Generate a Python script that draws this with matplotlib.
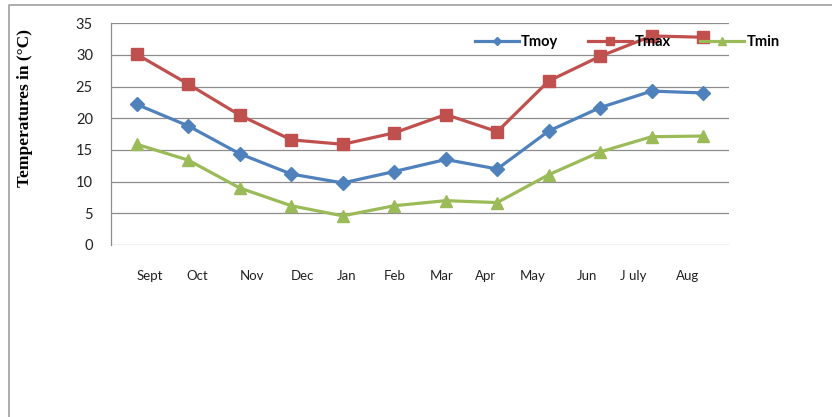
import matplotlib
matplotlib.use("Agg")
import matplotlib.pyplot as plt
import matplotlib.transforms as mtransforms
from matplotlib.lines import Line2D

# -----------------------------
# DATA
# -----------------------------
months = ["Sept", "Oct", "Nov", "Dec", "Jan", "Feb", "Mar", "Apr", "May", "Jun", "J uly", "Aug"]
tmoy = [22.2, 18.8, 14.4, 11.2, 9.8, 11.6, 13.5, 12.0, 18.0, 21.7, 24.3, 24.0]
tmax = [30.1, 25.4, 20.5, 16.6, 15.9, 17.7, 20.6, 17.9, 25.9, 29.8, 33.0, 32.8]
tmin = [15.9, 13.4, 9.0, 6.2, 4.6, 6.2, 7.0, 6.7, 11.1, 14.7, 17.1, 17.2]
yticks = [0, 5, 10, 15, 20, 25, 30, 35]

# -----------------------------
# STYLE
# -----------------------------
BLUE = "#4F81BD"
RED = "#C0504D"
GREEN = "#9BBB59"
GRID = "#8C8C8C"
TICK_FONT = "Lato"

W, H = 832, 417
fig = plt.figure(figsize=(W / 100, H / 100), dpi=100)
ax = fig.add_axes([111 / W, 1 - 245 / H, (729 - 111) / W, (245 - 23.3) / H])

x = list(range(len(months)))
ax.plot(x, tmoy, color=BLUE, lw=2.3, marker="D", ms=7.5, label="Tmoy")
ax.plot(x, tmax, color=RED, lw=2.3, marker="s", ms=8.5, label="Tmax")
ax.plot(x, tmin, color=GREEN, lw=2.3, marker="^", ms=9, label="Tmin")

ax.set_xlim(-0.5, len(months) - 0.5)
ax.set_ylim(0, 35)
ax.set_yticks(yticks)
ax.yaxis.grid(True, color=GRID, lw=0.9)
ax.set_axisbelow(True)
for s in ["top", "right", "bottom"]:
    ax.spines[s].set_visible(False)
ax.spines["left"].set_color(GRID)
ax.spines["left"].set_linewidth(0.9)

ax.tick_params(axis="y", length=0, pad=13, labelsize=10.5, labelcolor="#222222")
ax.tick_params(axis="x", length=0, pad=18, labelsize=9.5, labelcolor="#222222")
for lab in ax.get_yticklabels():
    lab.set_fontfamily(TICK_FONT)

ax.set_xticks(x)
ax.set_xticklabels(months, fontfamily=TICK_FONT)
# month labels sit a little off their points in the original
label_shift_px = [13, 9, 12, 11, 4, 0, -4, -12, -16, -13, -18, -16]
for lab, dx in zip(ax.get_xticklabels(), label_shift_px):
    lab.set_transform(lab.get_transform() + mtransforms.ScaledTranslation(dx / 100, 0, fig.dpi_scale_trans))

leg = ax.legend(loc="center left", bbox_to_anchor=(468 / W, 1 - 42 / H),
                bbox_transform=fig.transFigure, ncol=3, frameon=False,
                borderpad=0, handlelength=3.0, handletextpad=0.15,
                columnspacing=2.05, markerscale=0.6,
                prop={"family": TICK_FONT, "weight": "bold", "size": 10.5})
leg.set_zorder(5)

fig.text(25 / W, 1 - 108 / H, "Temperatures in (°C)", rotation=90,
         ha="center", va="center", fontfamily="Liberation Serif",
         fontweight="bold", fontsize=12.5)

# chart frame (cropped at right and bottom)
fig.add_artist(Line2D([9 / W, 9 / W, 1.0], [0.0, 1 - 5 / H, 1 - 5 / H],
                      transform=fig.transFigure, color="#A0A0A0", lw=1.2))

fig.savefig("out.png", dpi=100)
